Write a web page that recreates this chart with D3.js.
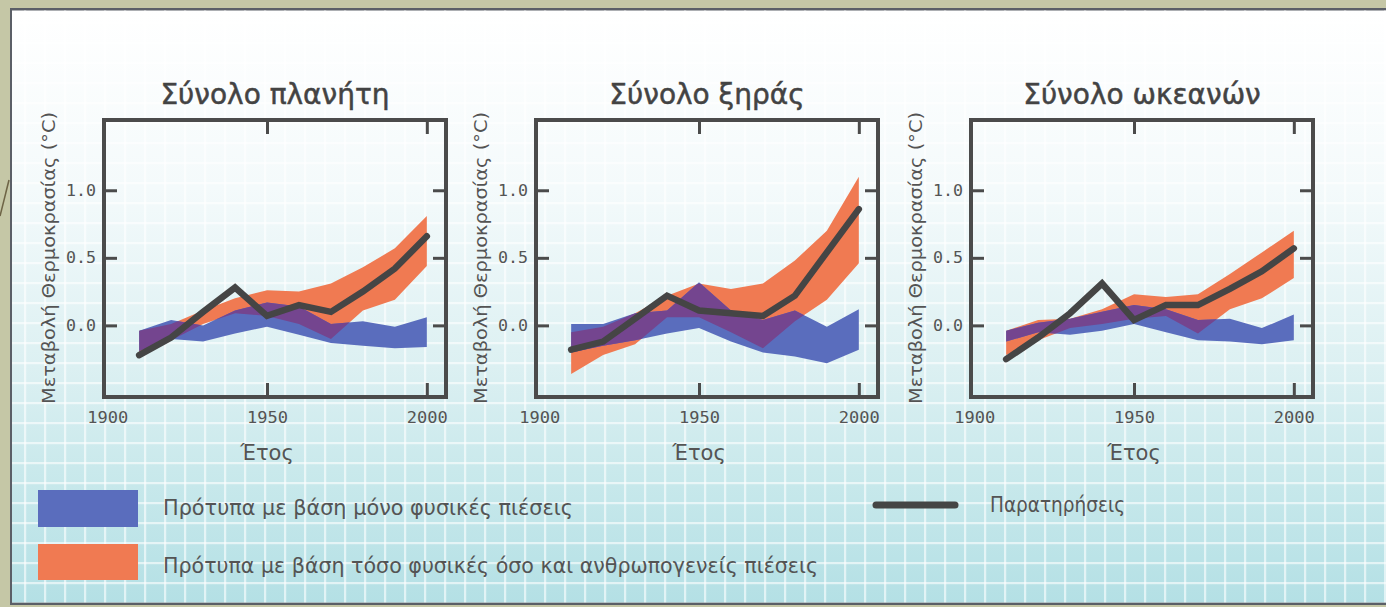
<!DOCTYPE html>
<html><head><meta charset="utf-8">
<script src="https://cdn.jsdelivr.net/npm/d3@7"></script>
<style>
html,body{margin:0;padding:0;background:#c5c7a6;overflow:hidden}
svg{display:block}
</style></head>
<body>
<svg id="c" width="1386" height="607"></svg>
<script>
// ---------- data ----------
const years = [1910, 1920, 1930, 1940, 1950, 1960, 1970, 1980, 1990, 2000];
const panelTitles = ["Σύνολο πλανήτη", "Σύνολο ξηράς", "Σύνολο ωκεανών"];
const xTickValues = [1900, 1950, 2000];
const yTickValues = [0.0, 0.5, 1.0];
const yLabel = "Μεταβολή Θερμοκρασίας (°C)";
const xLabel = "Έτος";
const legendLabels = ["Πρότυπα με βάση μόνο φυσικές πιέσεις",
  "Πρότυπα με βάση τόσο φυσικές όσο και ανθρωπογενείς πιέσεις",
  "Παρατηρήσεις"];

// Σύνολο πλανήτη
const globalObs      = [-0.22, -0.09, 0.10, 0.28, 0.07, 0.15, 0.10, 0.25, 0.42, 0.66];
const globalAllHigh  = [-0.04, 0.01, 0.11, 0.20, 0.26, 0.25, 0.31, 0.43, 0.57, 0.81];
const globalAllLow   = [-0.20, -0.11, 0.01, 0.09, 0.07, 0.01, -0.10, 0.11, 0.19, 0.44];
const globalNatHigh  = [-0.04, 0.04, 0.00, 0.11, 0.17, 0.14, 0.01, 0.03, -0.01, 0.06];
const globalNatLow   = [-0.19, -0.10, -0.12, -0.06, -0.01, -0.07, -0.13, -0.15, -0.17, -0.16];
// Σύνολο ξηράς
const landObs        = [-0.18, -0.12, 0.05, 0.22, 0.11, 0.09, 0.07, 0.22, 0.54, 0.86];
const landAllHigh    = [-0.05, -0.01, 0.09, 0.22, 0.31, 0.27, 0.31, 0.48, 0.70, 1.10];
const landAllLow     = [-0.36, -0.22, -0.14, 0.06, 0.06, -0.05, -0.17, 0.03, 0.19, 0.46];
const landNatHigh    = [0.01, 0.01, 0.09, 0.11, 0.32, 0.11, 0.04, 0.11, -0.01, 0.12];
const landNatLow     = [-0.20, -0.15, -0.11, -0.06, -0.02, -0.12, -0.20, -0.23, -0.28, -0.18];
// Σύνολο ωκεανών
const oceanObs       = [-0.25, -0.09, 0.09, 0.31, 0.04, 0.15, 0.15, 0.27, 0.40, 0.57];
const oceanAllHigh   = [-0.04, 0.04, 0.05, 0.12, 0.23, 0.21, 0.23, 0.38, 0.54, 0.70];
const oceanAllLow    = [-0.22, -0.11, -0.02, 0.01, 0.05, 0.07, -0.06, 0.12, 0.20, 0.35];
const oceanNatHigh   = [-0.04, 0.02, 0.05, 0.10, 0.15, 0.12, 0.04, 0.05, -0.02, 0.08];
const oceanNatLow    = [-0.12, -0.05, -0.07, -0.04, 0.01, -0.05, -0.11, -0.12, -0.14, -0.11];

const panels = [
  {title: panelTitles[0], obs: globalObs, allHi: globalAllHigh, allLo: globalAllLow, natHi: globalNatHigh, natLo: globalNatLow},
  {title: panelTitles[1], obs: landObs, allHi: landAllHigh, allLo: landAllLow, natHi: landNatHigh, natLo: landNatLow},
  {title: panelTitles[2], obs: oceanObs, allHi: oceanAllHigh, allLo: oceanAllLow, natHi: oceanNatHigh, natLo: oceanNatLow}
];

// ---------- style ----------
const C = {blue: "#5a6dbd", orange: "#f07a52", purple: "#74458f", obs: "#454545",
  frame: "#4b4b4b", text: "#545454"};
const panelLeft = [104, 536, 971];
const boxW = 342, boxTop = 120, boxBottom = 397;

const svg = d3.select("#c");
const defs = svg.append("defs");

// background
const grad = defs.append("linearGradient").attr("id", "bg").attr("x1", 0).attr("y1", 0).attr("x2", 0).attr("y2", 1);
[[0, "#ffffff"], [0.3, "#f4fafb"], [0.6, "#dcf0f2"], [0.8, "#c7e8eb"], [1, "#b4e0e5"]].forEach(s =>
  grad.append("stop").attr("offset", s[0]).attr("stop-color", s[1]));
const pat = defs.append("pattern").attr("id", "grid").attr("patternUnits", "userSpaceOnUse")
  .attr("x", 4).attr("y", 2).attr("width", 20).attr("height", 20);
pat.append("rect").attr("x", 0).attr("y", 0).attr("width", 2.2).attr("height", 20).attr("fill", "#ffffff").attr("opacity", 0.6);
pat.append("rect").attr("x", 0).attr("y", 0).attr("width", 20).attr("height", 2.2).attr("fill", "#ffffff").attr("opacity", 0.6);

svg.append("rect").attr("x", 0).attr("y", 0).attr("width", 1386).attr("height", 607).attr("fill", "#c5c7a6");
svg.append("line").attr("x1", 0).attr("y1", 216).attr("x2", 9).attr("y2", 180).attr("stroke", "#6e6446").attr("stroke-width", 1.5);
svg.append("rect").attr("x", 10).attr("y", 8).attr("width", 1376).attr("height", 597).attr("fill", "#5b5f67");
svg.append("rect").attr("x", 12).attr("y", 10.5).attr("width", 1374).attr("height", 592).attr("fill", "url(#bg)");
svg.append("rect").attr("x", 12).attr("y", 10.5).attr("width", 1374).attr("height", 592).attr("fill", "url(#grid)");

const font = "'DejaVu Sans', 'Noto Sans', sans-serif";
const monoFont = "'DejaVu Sans Mono', monospace";

panels.forEach((p, i) => {
  const L = panelLeft[i];
  const x = d3.scaleLinear().domain([1899, 2006]).range([L, L + boxW]);
  const y = d3.scaleLinear().domain([-0.53, 1.52]).range([boxBottom, boxTop]);
  const g = svg.append("g");

  const band = (hi, lo) => d3.area().x((d, j) => x(years[j])).y0((d, j) => y(lo[j])).y1((d, j) => y(hi[j]))(years);

  const clipId = "clip" + i;
  defs.append("clipPath").attr("id", clipId).append("path").attr("d", band(p.allHi, p.allLo));

  g.append("path").attr("d", band(p.allHi, p.allLo)).attr("fill", C.orange);
  g.append("path").attr("d", band(p.natHi, p.natLo)).attr("fill", C.blue);
  g.append("path").attr("d", band(p.natHi, p.natLo)).attr("fill", C.purple).attr("clip-path", `url(#${clipId})`);

  g.append("path")
    .attr("d", d3.line().x((d, j) => x(years[j])).y(d => y(d))(p.obs))
    .attr("fill", "none").attr("stroke", C.obs).attr("stroke-width", 6.5)
    .attr("stroke-linejoin", "miter").attr("stroke-linecap", "round");

  // axes with inner ticks
  const styleAxis = sel => {
    sel.select(".domain").remove();
    sel.selectAll(".tick line").attr("stroke", C.frame).attr("stroke-width", 3);
    sel.selectAll("text").attr("fill", C.text).attr("font-family", monoFont).attr("font-size", 16);
  };
  const bottom = g.append("g").attr("transform", `translate(0,${boxBottom})`)
    .call(d3.axisBottom(x).tickValues(xTickValues).tickSizeInner(-14).tickSizeOuter(0).tickPadding(15).tickFormat(d3.format("d")))
    .call(styleAxis);
  bottom.selectAll(".tick").filter(d => d === 1900).select("line").remove();
  bottom.selectAll("text").attr("textLength", 41).attr("lengthAdjust", "spacingAndGlyphs");
  const top = g.append("g").attr("transform", `translate(0,${boxTop})`)
    .call(d3.axisTop(x).tickValues(xTickValues).tickSizeInner(-14).tickSizeOuter(0).tickFormat(""))
    .call(styleAxis);
  top.selectAll(".tick").filter(d => d === 1900).remove();
  const left = g.append("g").attr("transform", `translate(${L},0)`)
    .call(d3.axisLeft(y).tickValues(yTickValues).tickSizeInner(-13).tickSizeOuter(0).tickPadding(8).tickFormat(d3.format(".1f")))
    .call(styleAxis);
  left.selectAll("text").attr("textLength", 30).attr("lengthAdjust", "spacingAndGlyphs");
  g.append("g").attr("transform", `translate(${L + boxW},0)`)
    .call(d3.axisRight(y).tickValues(yTickValues).tickSizeInner(-13).tickSizeOuter(0).tickFormat(""))
    .call(styleAxis);

  g.append("rect").attr("x", L).attr("y", boxTop).attr("width", boxW).attr("height", boxBottom - boxTop)
    .attr("fill", "none").attr("stroke", C.frame).attr("stroke-width", 4);

  // title
  g.append("text").attr("x", L + boxW / 2).attr("y", 104).attr("text-anchor", "middle")
    .attr("font-family", font).attr("font-size", 28).attr("fill", "#434343")
    .attr("stroke", "#434343").attr("stroke-width", 0.5)
    .text(p.title);
  // y label
  g.append("text").attr("transform", `translate(${L - 49},${258}) rotate(-90)`).attr("text-anchor", "middle")
    .attr("font-family", font).attr("font-size", 17.5).attr("fill", C.text)
    .attr("textLength", 292).attr("lengthAdjust", "spacingAndGlyphs")
    .text(yLabel);
  // x label
  g.append("text").attr("x", x(1950)).attr("y", 460).attr("text-anchor", "middle")
    .attr("font-family", font).attr("font-size", 21).attr("fill", C.text)
    .text(xLabel);
});

// legend
const lg = svg.append("g");
lg.append("rect").attr("x", 38).attr("y", 490).attr("width", 100).attr("height", 37).attr("fill", C.blue);
lg.append("rect").attr("x", 38).attr("y", 544).attr("width", 100).attr("height", 36).attr("fill", C.orange);
lg.append("line").attr("x1", 876).attr("x2", 955).attr("y1", 505).attr("y2", 505)
  .attr("stroke", C.obs).attr("stroke-width", 7).attr("stroke-linecap", "round");
[[163, 515, legendLabels[0], 410], [163, 573, legendLabels[1], 655], [990, 512, legendLabels[2], 135]].forEach(d =>
  lg.append("text").attr("x", d[0]).attr("y", d[1]).attr("font-family", font).attr("font-size", 20.5)
    .attr("fill", C.text).attr("textLength", d[3]).attr("lengthAdjust", "spacingAndGlyphs").text(d[2]));
</script>
</body></html>
